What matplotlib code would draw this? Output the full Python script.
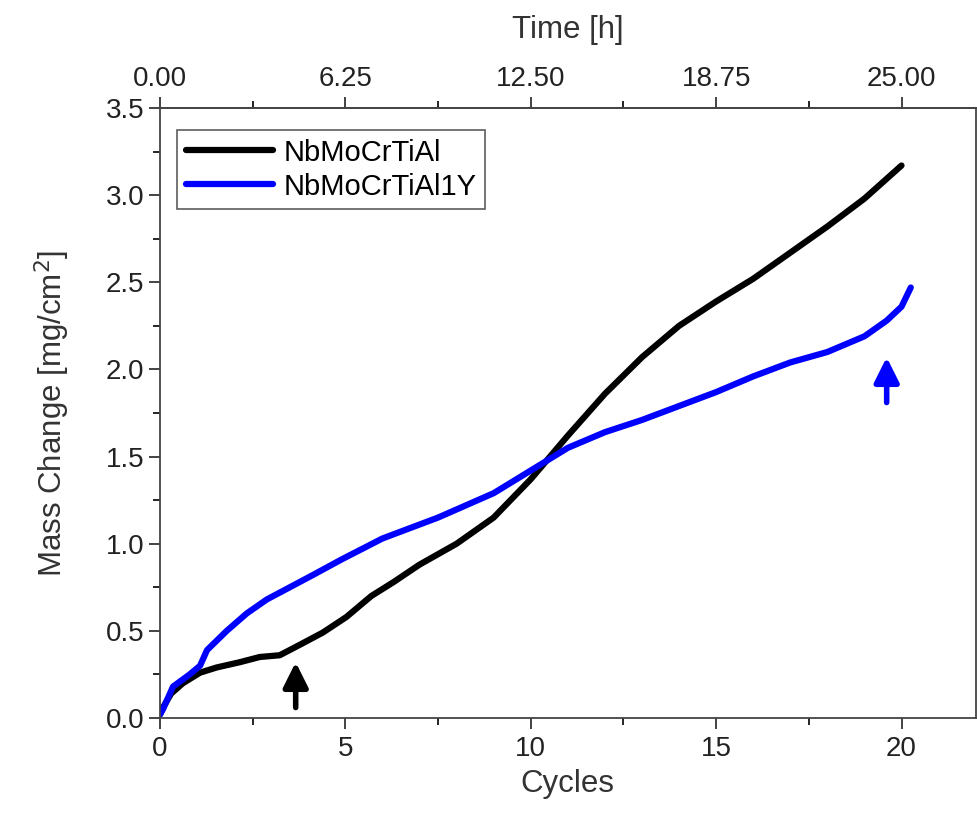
import matplotlib
matplotlib.use("Agg")
import matplotlib.pyplot as plt
from matplotlib.ticker import MultipleLocator, FixedLocator, FormatStrFormatter

plt.rcParams['font.family'] = ['Liberation Sans', 'DejaVu Sans']

# NbMoCrTiAl (black)
cyc_a = [0.0, 0.08, 0.3, 0.62, 1.08, 1.53, 2.15, 2.69, 3.23, 3.77, 4.39, 5.03, 5.7,
         6.3, 7.0, 8.0, 9.0, 10.0, 11.0, 12.0, 13.0, 14.0, 15.0, 16.0, 17.0, 18.0, 19.0, 20.0]
mass_a = [0.02, 0.06, 0.14, 0.20, 0.26, 0.29, 0.32, 0.35, 0.36, 0.42, 0.49, 0.58, 0.70,
          0.78, 0.88, 1.00, 1.15, 1.37, 1.62, 1.86, 2.07, 2.25, 2.39, 2.52, 2.67, 2.82, 2.98, 3.17]

# NbMoCrTiAl1Y (blue)
cyc_b = [0.0, 0.08, 0.35, 0.8, 1.08, 1.27, 1.8, 2.34, 2.88, 3.5, 4.12, 4.9, 6.0,
         7.5, 9.0, 10.0, 11.0, 12.0, 13.0, 14.0, 15.0, 16.0, 17.0, 18.0, 19.0, 19.6, 20.0, 20.25]
mass_b = [0.02, 0.05, 0.18, 0.25, 0.30, 0.39, 0.50, 0.60, 0.68, 0.75, 0.82, 0.91, 1.03,
          1.15, 1.29, 1.42, 1.55, 1.64, 1.71, 1.79, 1.87, 1.96, 2.04, 2.10, 2.19, 2.28, 2.36, 2.47]

labels = ['NbMoCrTiAl', 'NbMoCrTiAl1Y']
colors = ['black', '#0000ff']

# arrows: x, y_tail, y_head
arrow_a = [3.66, 0.06, 0.32]
arrow_b = [19.6, 1.81, 2.07]

h_per_cycle = 1.25
time_ticks = [0.0, 6.25, 12.5, 18.75, 25.0]

fig = plt.figure(figsize=(9.78, 8.25), dpi=100)
ax = fig.add_axes([0.1636, 0.1297, 0.834, 0.7394])

ax.plot(cyc_a, mass_a, color=colors[0], lw=4.5, label=labels[0], solid_capstyle='round')
ax.plot(cyc_b, mass_b, color=colors[1], lw=4.5, label=labels[1], solid_capstyle='round')

for arr, c in [(arrow_a, colors[0]), (arrow_b, colors[1])]:
    ax.annotate('', xy=(arr[0], arr[2]), xytext=(arr[0], arr[1]),
                arrowprops=dict(arrowstyle='-|>,head_width=0.75,head_length=1.5',
                                color=c, lw=4, shrinkA=0, shrinkB=0))

ax.set_xlim(0, 22)
ax.set_ylim(0, 3.5)
ax.xaxis.set_major_locator(MultipleLocator(5))
ax.xaxis.set_minor_locator(MultipleLocator(2.5))
ax.yaxis.set_major_locator(MultipleLocator(0.5))
ax.yaxis.set_minor_locator(MultipleLocator(0.25))
ax.yaxis.set_major_formatter(FormatStrFormatter('%.1f'))
ax.tick_params(which='major', direction='out', length=8, width=1.2, labelsize=20, colors='#222222')
ax.tick_params(which='minor', direction='out', length=5, width=1.2)
ax.tick_params(axis='x', pad=5)

for s in ax.spines.values():
    s.set_linewidth(1.3)
    s.set_color('#444444')

ax.set_xlabel('Cycles', fontsize=22.5, color='#333333', labelpad=5)
ax.set_ylabel('Mass Change [mg/cm$^2$]', fontsize=22.5, color='#333333', labelpad=24)

top = ax.secondary_xaxis('top', functions=(lambda c: c * h_per_cycle, lambda t: t / h_per_cycle))
top.xaxis.set_major_locator(FixedLocator(time_ticks))
top.xaxis.set_minor_locator(FixedLocator([t + 3.125 for t in time_ticks]))
top.xaxis.set_major_formatter(FormatStrFormatter('%.2f'))
top.tick_params(which='major', direction='out', length=8, width=1.2, labelsize=20, colors='#222222')
top.tick_params(which='minor', direction='out', length=5, width=1.2)
top.spines['top'].set_linewidth(1.3)
top.spines['top'].set_color('#444444')
top.set_xlabel('Time [h]', fontsize=22.5, color='#333333', labelpad=20)

leg = ax.legend(loc='upper left', bbox_to_anchor=(0.021, 0.964), borderaxespad=0, fontsize=21,
                frameon=True, fancybox=False, edgecolor='#333333',
                handlelength=3.0, borderpad=0.3, labelspacing=0.2, handletextpad=0.35)
leg.get_frame().set_linewidth(1.2)

fig.savefig('out.png', dpi=100)
